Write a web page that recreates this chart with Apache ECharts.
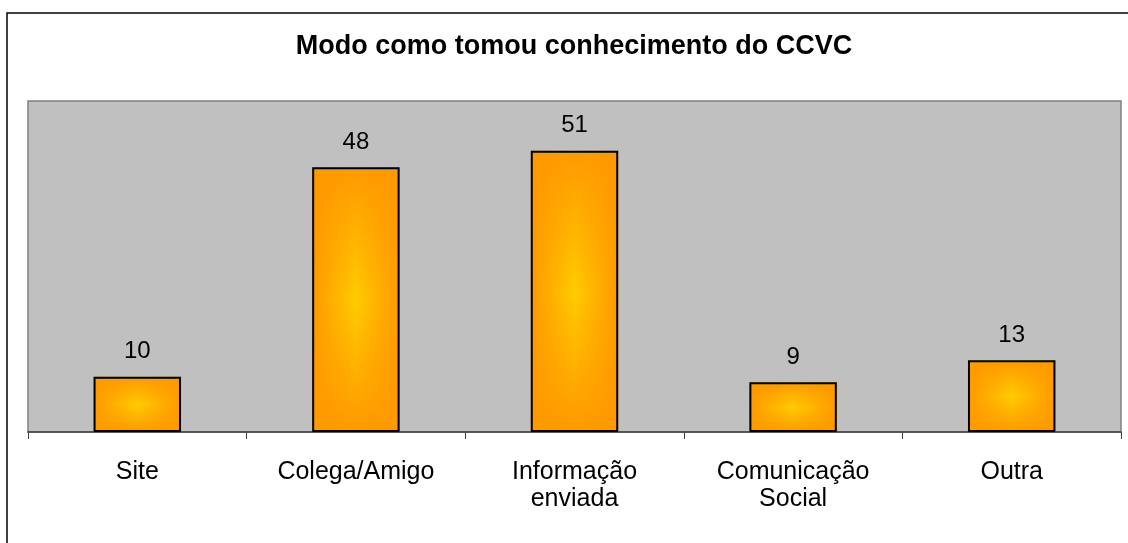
<!DOCTYPE html>
<html>
<head>
<meta charset="utf-8">
<script src="https://cdn.jsdelivr.net/npm/echarts@6/dist/echarts.min.js"></script>
<style>
html,body{margin:0;padding:0;background:#fff;}
#chart{width:1128px;height:543px;}
</style>
</head>
<body>
<div id="chart"></div>
<script>
const titleText = 'Modo como tomou conhecimento do CCVC';
const categories = ['Site', 'Colega/Amigo', 'Informação\nenviada', 'Comunicação\nSocial', 'Outra'];
const values = [10, 48, 51, 9, 13];

const FONT = 'Arial, "Liberation Sans", sans-serif';
const chart = echarts.init(document.getElementById('chart'), null, {renderer: 'canvas'});

const hGrad = new echarts.graphic.LinearGradient(0, 0, 1, 0, [
  {offset: 0, color: '#FF9900'},
  {offset: 0.5, color: '#FFCC00'},
  {offset: 1, color: '#FF9900'}
]);
const vGrad = new echarts.graphic.LinearGradient(0, 0, 0, 1, [
  {offset: 0, color: 'rgba(255,153,0,1)'},
  {offset: 0.5, color: 'rgba(255,153,0,0)'},
  {offset: 1, color: 'rgba(255,153,0,1)'}
]);

chart.setOption({
  animation: false,
  backgroundColor: '#ffffff',
  graphic: [
    {
      type: 'rect', silent: true, z: 100,
      shape: {x: 7, y: 13, width: 1200, height: 600},
      style: {fill: 'none', stroke: '#000', lineWidth: 1.5}
    },
    {
      type: 'text', silent: true, z: 100,
      x: 574, y: 47,
      style: {
        text: titleText, fill: '#000',
        font: 'bold 27px ' + FONT,
        textAlign: 'center', textVerticalAlign: 'middle'
      }
    }
  ],
  grid: {
    left: 28, right: 7, top: 101, bottom: 111,
    show: true, backgroundColor: '#C0C0C0',
    borderColor: '#808080', borderWidth: 1.5,
    containLabel: false
  },
  xAxis: {
    type: 'category',
    data: categories,
    axisLine: {show: true, lineStyle: {color: '#404040', width: 1.5}},
    axisTick: {show: true, length: 7, lineStyle: {color: '#404040', width: 1}},
    axisLabel: {
      interval: 0, margin: 27, color: '#000',
      fontFamily: FONT, fontSize: 25, lineHeight: 27
    },
    splitLine: {show: false}
  },
  yAxis: {
    type: 'value', min: 0, max: 60, interval: 10,
    show: false, splitLine: {show: false}
  },
  series: [
    {
      type: 'bar', data: values, barWidth: '40%', barGap: '-100%',
      itemStyle: {color: hGrad, borderWidth: 0},
      silent: true, z: 2
    },
    {
      type: 'bar', data: values, barWidth: '40%', barGap: '-100%',
      itemStyle: {color: vGrad, borderColor: '#000', borderWidth: 2},
      label: {
        show: true, position: 'top', distance: 13,
        color: '#000', fontFamily: FONT, fontSize: 24
      },
      silent: true, z: 3
    }
  ]
});
</script>
</body>
</html>
